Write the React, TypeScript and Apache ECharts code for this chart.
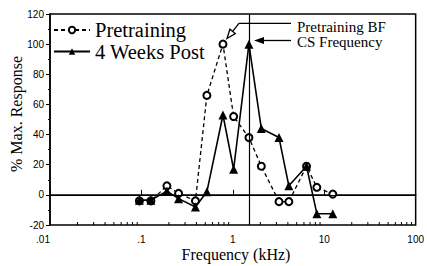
import React, { useEffect, useRef } from "react";
import * as echarts from "echarts";

const freqs = [0.095, 0.127, 0.19, 0.255, 0.39, 0.52, 0.78, 1.02, 1.5, 2.05, 3.2, 4.1, 6.4, 8.3, 12.4];
const pretraining = [-4, -4, 6, 1, -4, 66, 100, 52, 38, 19, -4.5, -4.5, 19, 5, 0.5];
const weeksPost = [-3.5, -3.5, 2.5, -2.5, -8, 2, 53, 17, 100, 44, 38, 6, 19, -12.5, -12.5];
const csFrequency = 1.5;
const xTickValues = [0.01, 0.1, 1, 10, 100];
const xTickLabels = [".01", ".1", "1", "10", "100"];
const xMinorTicks = [
  0.02, 0.03, 0.04, 0.05, 0.06, 0.07, 0.08, 0.09,
  0.2, 0.3, 0.4, 0.5, 0.6, 0.7, 0.8, 0.9,
  2, 3, 4, 5, 6, 7, 8, 9,
  20, 30, 40, 50, 60, 70, 80, 90,
];
const seriesNames = ["Pretraining", "4 Weeks Post"];
const xTitle = "Frequency (kHz)";
const yTitle = "% Max. Response";

const SERIF = "Liberation Serif";
const SANS = "Liberation Sans";

export default function App() {
  const ref = useRef<HTMLDivElement>(null);
  useEffect(() => {
    if (!ref.current) return;
    const chart = echarts.init(ref.current, undefined, { renderer: "svg" });
    const zip = (ys: number[]) => freqs.map((f, i) => [f, ys[i]]);
    const txt = (text: string, size: number) => ({
      text,
      fontFamily: SERIF,
      fontSize: size,
      fill: "#000",
    });
    chart.setOption({
      animation: false,
      backgroundColor: "#fff",
      grid: {
        left: 50,
        right: 9.5,
        top: 14,
        bottom: 41,
        show: true,
        borderColor: "#000",
        borderWidth: 1.5,
        containLabel: false,
      },
      legend: {
        data: seriesNames,
        orient: "vertical",
        left: 53,
        top: 19.5,
        padding: 0,
        itemGap: 0.5,
        itemWidth: 36,
        itemHeight: 8,
        textStyle: {
          fontFamily: SERIF,
          fontSize: 20.5,
          lineHeight: 16,
          color: "#000",
        },
      },
      xAxis: {
        type: "log",
        logBase: 10,
        min: 0.01,
        max: 100,
        axisLine: { lineStyle: { color: "#000", width: 1.5 } },
        axisTick: { show: true, inside: true, length: 5, lineStyle: { color: "#000" } },
        minorTick: { show: false },
        splitLine: { show: false },
        axisLabel: {
          fontFamily: SANS,
          fontSize: 10,
          color: "#000",
          margin: 9,
          alignMinLabel: "right",
          formatter: (v: number) => {
            const e = Math.round(Math.log10(v));
            const idx = xTickValues.findIndex((t) => Math.round(Math.log10(t)) === e);
            return idx >= 0 ? xTickLabels[idx] : "";
          },
        },
      },
      yAxis: {
        type: "value",
        min: -20,
        max: 120,
        interval: 20,
        axisLine: { show: true, lineStyle: { color: "#000", width: 1.5 } },
        axisTick: { show: true, length: 4, lineStyle: { color: "#000" } },
        minorTick: { show: true, splitNumber: 2, length: 2, lineStyle: { color: "#000" } },
        splitLine: { show: false },
        axisLabel: { fontFamily: SANS, fontSize: 10, color: "#000", margin: 6 },
      },
      series: [
        {
          name: seriesNames[0],
          type: "line",
          data: zip(pretraining),
          symbol: "emptyCircle",
          symbolSize: 7,
          z: 3,
          lineStyle: { color: "#000", width: 1.3, type: [4, 3] },
          itemStyle: { color: "#000", borderColor: "#000", borderWidth: 1.6 },
          markLine: {
            silent: true,
            symbol: "none",
            label: { show: false },
            lineStyle: { color: "#000", width: 1.2, type: "solid" },
            data: [{ yAxis: 0 }, { xAxis: csFrequency }],
          },
        },
        {
          name: seriesNames[1],
          type: "line",
          data: zip(weeksPost),
          symbol: "triangle",
          symbolSize: 9,
          z: 4,
          lineStyle: { color: "#000", width: 1.6 },
          itemStyle: { color: "#000" },
        },
        {
          name: "minorTicks",
          type: "custom",
          silent: true,
          data: xMinorTicks.map((f) => [f, -20]),
          renderItem: (params: any, api: any) => {
            const p = api.coord([api.value(0), api.value(1)]);
            return {
              type: "line",
              shape: { x1: p[0], y1: p[1], x2: p[0], y2: p[1] - 3 },
              style: { stroke: "#000", lineWidth: 1 },
            };
          },
        },
      ],
      graphic: [
        {
          type: "polyline",
          shape: { points: [[291, 23.3], [239, 23.3], [232.6, 31.4]] },
          style: { stroke: "#000", lineWidth: 1.3, fill: "none" },
          z: 10,
        },
        {
          type: "polygon",
          shape: { points: [[227, 38.5], [235.3, 33.6], [229.9, 29.2]] },
          style: { stroke: "#000", lineWidth: 1.3, fill: "#fff" },
          z: 10,
        },
        {
          type: "line",
          shape: { x1: 291, y1: 40.5, x2: 262, y2: 40.5 },
          style: { stroke: "#000", lineWidth: 1.3 },
          z: 10,
        },
        {
          type: "polygon",
          shape: { points: [[254, 40.5], [264, 37], [264, 44]] },
          style: { fill: "#000" },
          z: 10,
        },
        {
          type: "text",
          x: 297,
          y: 26.5,
          style: { ...txt("Pretraining BF", 15), align: "left", verticalAlign: "middle" },
          z: 10,
        },
        {
          type: "text",
          x: 297,
          y: 41.5,
          style: { ...txt("CS Frequency", 15), align: "left", verticalAlign: "middle" },
          z: 10,
        },
        {
          type: "text",
          x: 236,
          y: 254,
          style: { ...txt(xTitle, 16), align: "center", verticalAlign: "middle" },
          z: 10,
        },
        {
          type: "text",
          x: 16,
          y: 114,
          rotation: Math.PI / 2,
          style: { ...txt(yTitle, 16), align: "center", verticalAlign: "middle" },
          z: 10,
        },
      ],
    });
    return () => chart.dispose();
  }, []);
  return (
    <div
      ref={ref}
      style={{ position: "fixed", left: 0, top: 0, width: 427, height: 266, background: "#fff" }}
    />
  );
}
